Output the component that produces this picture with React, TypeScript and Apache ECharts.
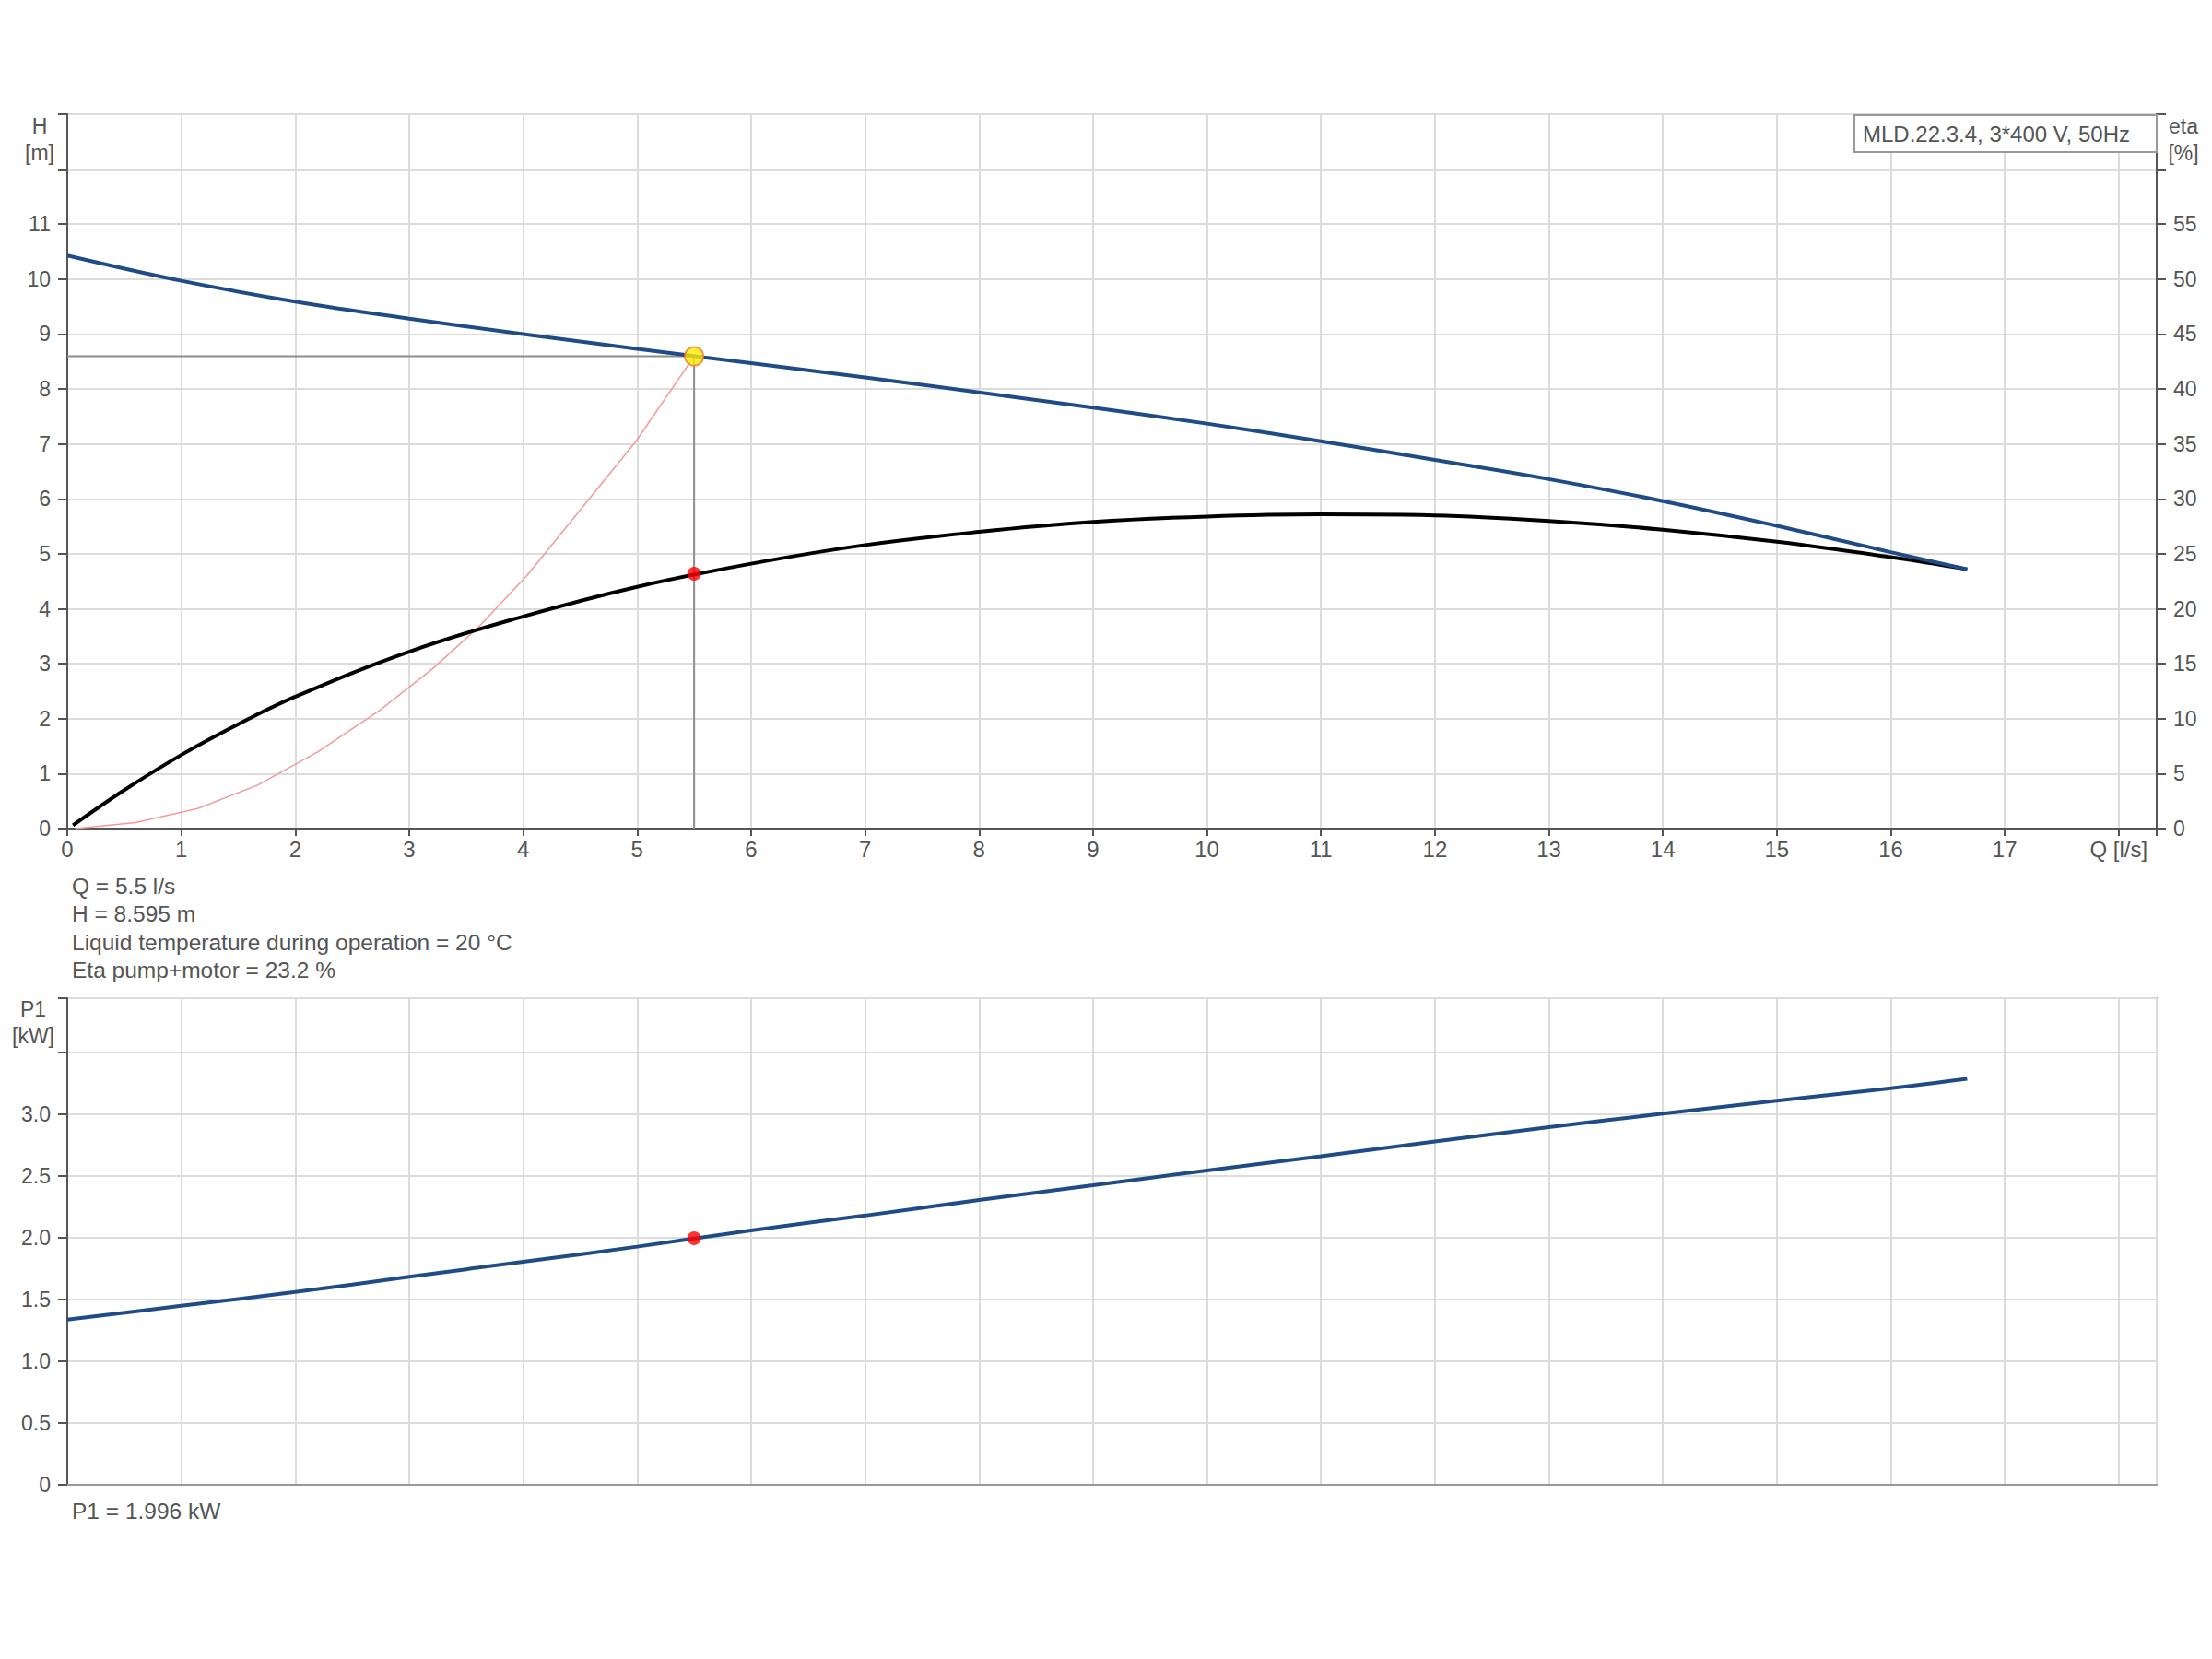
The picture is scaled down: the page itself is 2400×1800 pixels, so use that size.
import React, { useEffect, useRef } from "react";
import * as echarts from "echarts";

// ---- data ----
const qHead = [0, 1, 2, 3, 4, 5, 6, 7, 8, 9, 10, 11, 12, 13, 14, 15, 16, 16.67];
const headM = [10.43, 9.97, 9.59, 9.28, 9.0, 8.73, 8.47, 8.21, 7.94, 7.66, 7.37, 7.05, 6.71, 6.36, 5.96, 5.51, 5.03, 4.72];

const qEta = [0.05, 0.5, 1, 1.5, 2, 3, 4, 5, 6, 7, 8, 9, 10, 11, 12, 13, 14, 15, 16, 16.67];
const etaPct = [0.3, 3.5, 6.7, 9.5, 12.0, 16.1, 19.3, 22.0, 24.1, 25.8, 27.0, 27.9, 28.4, 28.6, 28.5, 28.0, 27.2, 26.1, 24.7, 23.6];

const qSys = [0.07, 0.6, 1.15, 1.67, 2.2, 2.74, 3.2, 3.6, 4.04, 4.58, 4.99, 5.5];
const sysH = [0, 0.11, 0.37, 0.79, 1.4, 2.15, 2.9, 3.65, 4.62, 6.0, 7.05, 8.595];

const qP1 = [0, 1, 2, 3, 4, 5, 6, 7, 8, 9, 10, 11, 12, 13, 14, 15, 16, 16.67];
const p1kW = [1.337, 1.449, 1.561, 1.684, 1.806, 1.928, 2.06, 2.18, 2.305, 2.425, 2.545, 2.66, 2.78, 2.895, 3.005, 3.11, 3.21, 3.287];

const dutyQ = 5.5;
const dutyH = 8.595;
const dutyEta = 23.2;
const dutyP1 = 1.996;

const qMax = 18.333;
const hMax = 13;
const etaMax = 65;
const p1Max = 3.94;

const pumpTitle = "MLD.22.3.4, 3*400 V, 50Hz";
const infoLines = [
  "Q = 5.5 l/s",
  "H = 8.595 m",
  "Liquid temperature during operation = 20 °C",
  "Eta pump+motor = 23.2 %",
];
const p1Info = "P1 = 1.996 kW";

const FONT = "Liberation Sans";
const TXT = "#555";
const AXIS = "#555";
const GRID = "#dcdcdc";
const BLUE = "#1f4c86";

const zip = (a: number[], b: number[]) => a.map((x, i) => [x, b[i]]);

export default function App() {
  const ref = useRef<HTMLDivElement>(null);
  useEffect(() => {
    if (!ref.current) return;
    const chart = echarts.init(ref.current, undefined, { renderer: "svg" });
    const isInt = (v: number) => Math.abs(v - Math.round(v)) < 1e-6;
    const option: any = {
      animation: false,
      backgroundColor: "#fff",
      textStyle: { fontFamily: FONT },
      grid: [
        { left: 73, top: 124, width: 2267, height: 775, show: true, borderColor: "#999", borderWidth: 2 },
        { left: 73, top: 1083, width: 2267, height: 528, show: true, borderColor: "#999", borderWidth: 2 },
      ],
      xAxis: [
        {
          type: "value", gridIndex: 0, min: 0, max: qMax, interval: 1,
          axisLine: { show: true, onZero: false, lineStyle: { color: AXIS, width: 2 } },
          axisTick: { show: true, length: 8, lineStyle: { color: AXIS, width: 2 } },
          axisLabel: {
            color: TXT, fontSize: 24, fontFamily: FONT, margin: 10,
            formatter: (v: number) => (Math.abs(v - 18) < 1e-6 ? "Q [l/s]" : isInt(v) ? String(Math.round(v)) : ""),
          },
          splitLine: { show: true, lineStyle: { color: GRID, width: 2 } },
        },
        {
          type: "value", gridIndex: 1, min: 0, max: qMax, interval: 1,
          axisLine: { show: true, onZero: false, lineStyle: { color: "#999", width: 2 } },
          axisTick: { show: false },
          axisLabel: { show: false },
          splitLine: { show: true, lineStyle: { color: GRID, width: 2 } },
        },
      ],
      yAxis: [
        {
          type: "value", gridIndex: 0, min: 0, max: hMax, interval: 1,
          axisLine: { show: true, onZero: false, lineStyle: { color: AXIS, width: 2 } },
          axisTick: { show: true, length: 10, lineStyle: { color: AXIS, width: 2 } },
          axisLabel: {
            color: TXT, fontSize: 23, fontFamily: FONT, margin: 18,
            formatter: (v: number) => (v <= 11 ? String(v) : ""),
          },
          splitLine: { show: true, lineStyle: { color: GRID, width: 2 } },
        },
        {
          type: "value", gridIndex: 0, position: "right", min: 0, max: etaMax, interval: 5,
          axisLine: { show: true, onZero: false, lineStyle: { color: AXIS, width: 2 } },
          axisTick: { show: true, length: 10, lineStyle: { color: AXIS, width: 2 } },
          axisLabel: {
            color: TXT, fontSize: 23, fontFamily: FONT, margin: 18,
            formatter: (v: number) => (v <= 55 ? String(v) : ""),
          },
          splitLine: { show: false },
        },
        {
          type: "value", gridIndex: 1, min: 0, max: p1Max, interval: 0.5,
          axisLine: { show: true, onZero: false, lineStyle: { color: AXIS, width: 2 } },
          axisTick: { show: true, length: 10, lineStyle: { color: AXIS, width: 2 } },
          axisLabel: {
            color: TXT, fontSize: 23, fontFamily: FONT, margin: 18,
            formatter: (v: number) => (v === 0 ? "0" : v <= 3.01 ? v.toFixed(1) : ""),
          },
          splitLine: { show: true, lineStyle: { color: GRID, width: 2 } },
        },
      ],
      series: [
        {
          type: "line", xAxisIndex: 0, yAxisIndex: 0, z: 2,
          data: [[0, dutyH], [dutyQ, dutyH], [dutyQ, 0]],
          showSymbol: false, lineStyle: { color: "#8c8c8c", width: 2 },
        },
        {
          type: "line", xAxisIndex: 0, yAxisIndex: 0, z: 3,
          data: zip(qSys, sysH), showSymbol: false, smooth: false,
          lineStyle: { color: "#f29a9a", width: 1.5 },
        },
        {
          type: "line", xAxisIndex: 0, yAxisIndex: 1, z: 4,
          data: zip(qEta, etaPct), showSymbol: false, smooth: 0.4,
          lineStyle: { color: "#000", width: 4 },
        },
        {
          type: "line", xAxisIndex: 0, yAxisIndex: 0, z: 5,
          data: zip(qHead, headM), showSymbol: false, smooth: 0.4,
          lineStyle: { color: BLUE, width: 4 },
        },
        {
          type: "scatter", xAxisIndex: 0, yAxisIndex: 0, z: 10,
          data: [[dutyQ, dutyH]], symbolSize: 20,
          itemStyle: { color: "#ffea00", borderColor: "#ef7d2d", borderWidth: 2 },
        },
        {
          type: "scatter", xAxisIndex: 0, yAxisIndex: 1, z: 10,
          data: [[dutyQ, dutyEta]], symbolSize: 15,
          itemStyle: { color: "#ff0000" },
        },
        {
          type: "line", xAxisIndex: 1, yAxisIndex: 2, z: 5,
          data: zip(qP1, p1kW), showSymbol: false, smooth: 0.4,
          lineStyle: { color: BLUE, width: 4 },
        },
        {
          type: "scatter", xAxisIndex: 1, yAxisIndex: 2, z: 10,
          data: [[dutyQ, dutyP1]], symbolSize: 15,
          itemStyle: { color: "#ff0000" },
        },
      ],
      graphic: [
        {
          type: "text", x: 43, y: 122,
          style: { text: "H\n[m]", fill: TXT, font: `23px ${FONT}`, lineHeight: 29, align: "center" },
        },
        {
          type: "text", x: 2369, y: 122,
          style: { text: "eta\n[%]", fill: TXT, font: `23px ${FONT}`, lineHeight: 29, align: "center" },
        },
        {
          type: "text", x: 36, y: 1080,
          style: { text: "P1\n[kW]", fill: TXT, font: `23px ${FONT}`, lineHeight: 29, align: "center" },
        },
        {
          type: "rect", x: 2012, y: 125, z: 20,
          shape: { x: 0, y: 0, width: 328, height: 40 },
          style: { fill: "#fff", stroke: "#999", lineWidth: 2 },
        },
        {
          type: "text", x: 2021, y: 145, z: 21,
          style: { text: pumpTitle, fill: TXT, font: `24px ${FONT}`, verticalAlign: "middle" },
        },
        ...infoLines.map((t, i) => ({
          type: "text", x: 78, y: 961 + i * 30.6,
          style: { text: t, fill: TXT, font: `24.5px ${FONT}`, verticalAlign: "middle" },
        })),
        {
          type: "text", x: 78, y: 1639,
          style: { text: p1Info, fill: TXT, font: `24.5px ${FONT}`, verticalAlign: "middle" },
        },
      ],
    };
    chart.setOption(option);
    return () => chart.dispose();
  }, []);
  return (
    <div
      ref={ref}
      style={{ position: "absolute", left: 0, top: 0, width: 2400, height: 1800, background: "#fff" }}
    />
  );
}
